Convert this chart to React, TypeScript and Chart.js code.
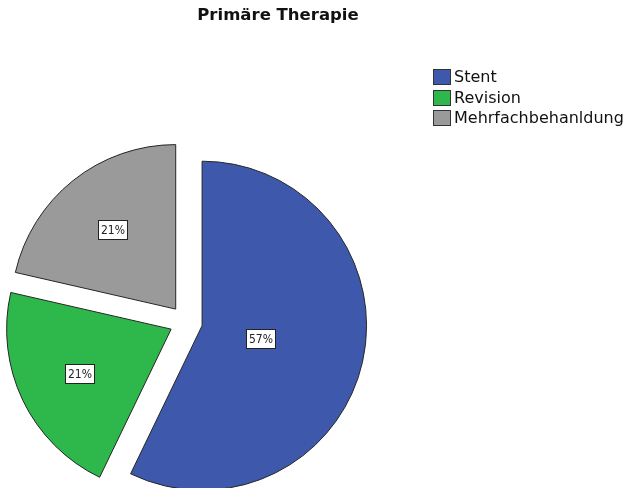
import React, { useEffect, useRef } from "react";
import { Chart, registerables } from "chart.js";

Chart.register(...registerables);

const chartTitle = "Primäre Therapie";
const categories = ["Stent", "Revision", "Mehrfachbehanldung"];
const percentValues = [57.1, 21.4, 21.4];
const sliceColors = ["#3e58ab", "#2eb84b", "#9a9a9a"];

const EXPLODE = 16.5;
const RADIUS = 164.5;
const FONT = "'DejaVu Sans', 'Liberation Sans', sans-serif";
const LABEL_FONT = "'DejaVu Sans Condensed', 'DejaVu Sans', sans-serif";

const explodePlugin = {
  id: "explodeSlices",
  afterDatasetsUpdate(chart: any) {
    const meta = chart.getDatasetMeta(0);
    meta.data.forEach((arc: any) => {
      const mid = (arc.startAngle + arc.endAngle) / 2;
      arc.x += Math.cos(mid) * EXPLODE;
      arc.y += Math.sin(mid) * EXPLODE;
    });
  },
};

const labelPlugin = {
  id: "sliceLabels",
  afterDatasetsDraw(chart: any) {
    const ctx = chart.ctx as CanvasRenderingContext2D;
    const meta = chart.getDatasetMeta(0);
    const data = chart.data.datasets[0].data as number[];
    const total = data.reduce((a, b) => a + b, 0);
    ctx.save();
    ctx.font = `12px ${LABEL_FONT}`;
    ctx.textAlign = "center";
    ctx.textBaseline = "middle";
    meta.data.forEach((arc: any, i: number) => {
      const theta = arc.endAngle - arc.startAngle;
      const mid = (arc.startAngle + arc.endAngle) / 2;
      const d = (4 * arc.outerRadius * Math.sin(theta / 2)) / (3 * theta);
      const cx = arc.x + Math.cos(mid) * d;
      const cy = arc.y + Math.sin(mid) * d;
      const text = Math.round((data[i] / total) * 100) + "%";
      const w = Math.round(ctx.measureText(text).width + 5);
      const h = 19;
      const bx = Math.round(cx - w / 2) + 0.5;
      const by = Math.round(cy - h / 2) + 0.5;
      ctx.fillStyle = "#ffffff";
      ctx.fillRect(bx, by, w, h);
      ctx.strokeStyle = "#222222";
      ctx.lineWidth = 1;
      ctx.strokeRect(bx, by, w, h);
      ctx.fillStyle = "#222222";
      ctx.fillText(text, bx + w / 2, by + h / 2 + 0.5);
    });
    ctx.restore();
  },
};

export default function App() {
  const canvasRef = useRef<HTMLCanvasElement | null>(null);

  useEffect(() => {
    if (!canvasRef.current) return;
    const chart = new Chart(canvasRef.current, {
      type: "pie",
      data: {
        labels: categories,
        datasets: [
          {
            data: percentValues,
            backgroundColor: sliceColors,
            borderColor: "#262626",
            borderWidth: 1,
            borderJoinStyle: "miter",
          } as any,
        ],
      },
      options: {
        responsive: false,
        animation: false,
        events: [],
        radius: RADIUS,
        layout: { padding: { left: 12, right: 270, top: 156, bottom: 0 } },
        plugins: {
          legend: { display: false },
          title: { display: false },
          tooltip: { enabled: false },
        },
      } as any,
      plugins: [explodePlugin, labelPlugin],
    });
    return () => chart.destroy();
  }, []);

  return (
    <div
      style={{
        position: "absolute",
        left: 0,
        top: 0,
        width: 630,
        height: 488,
        background: "#ffffff",
        overflow: "hidden",
        fontFamily: FONT,
      }}
    >
      <canvas
        ref={canvasRef}
        width={630}
        height={488}
        style={{ position: "absolute", left: 0, top: 0 }}
      />
      <div
        style={{
          position: "absolute",
          left: 128,
          top: 5,
          width: 300,
          textAlign: "center",
          fontWeight: "bold",
          fontSize: 16.5,
          lineHeight: "20px",
          color: "#111",
        }}
      >
        {chartTitle}
      </div>
      {categories.map((c, i) => (
        <div
          key={c}
          style={{
            position: "absolute",
            left: 433,
            top: 67 + i * 20.7,
            height: 20,
            display: "flex",
            alignItems: "center",
            whiteSpace: "nowrap",
          }}
        >
          <div
            style={{
              width: 18,
              height: 16,
              boxSizing: "border-box",
              border: "1px solid #333",
              background: sliceColors[i],
              marginRight: 3,
            }}
          />
          <span style={{ fontSize: 16, lineHeight: "20px", color: "#111" }}>{c}</span>
        </div>
      ))}
    </div>
  );
}
